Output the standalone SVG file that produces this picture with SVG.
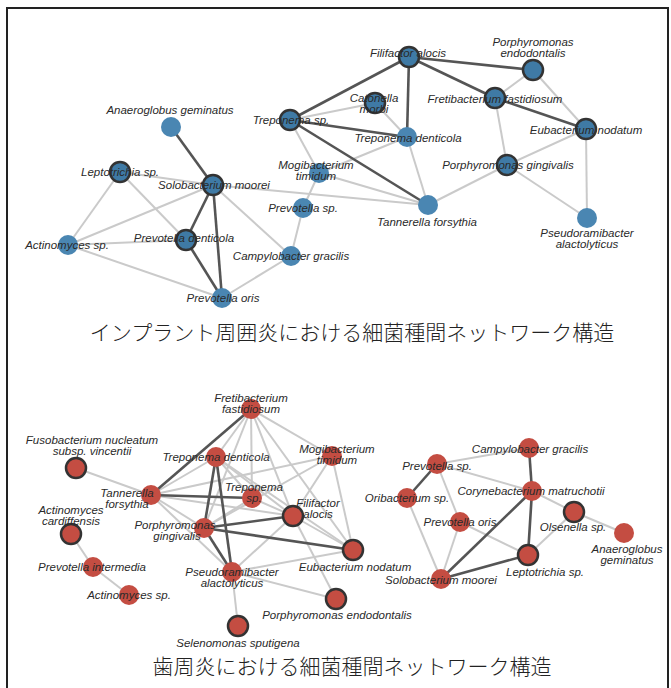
<svg xmlns="http://www.w3.org/2000/svg" width="671" height="688" viewBox="0 0 671 688">
<style>
.e{stroke:#cacaca;stroke-width:2;fill:none}
.d{stroke:#555;stroke-width:2.6;fill:none}
.b{fill:#4a86b2}
.bo{fill:#3f7aa5;stroke:#333;stroke-width:2.5}
.r{fill:#c44d42}
.ro{fill:#c44d42;stroke:#333;stroke-width:2.5}
.t{font-family:"Liberation Sans",Arial,sans-serif;font-size:11.5px;font-style:italic;fill:#2a2a2a;text-anchor:middle}
.h{font-family:"Liberation Serif","Noto Sans CJK JP",serif;font-size:21px;font-weight:300;fill:#222;text-anchor:middle}
</style>
<rect x="0" y="0" width="671" height="688" fill="#fff"/>
<rect x="7" y="8" width="661" height="690" fill="none" stroke="#222" stroke-width="2"/>
<g id="connectors">
<line class="e" x1="290" y1="120" x2="375" y2="103"/>
<line class="e" x1="290" y1="120" x2="319" y2="173"/>
<line class="e" x1="375" y1="103" x2="407" y2="137"/>
<line class="e" x1="407" y1="137" x2="319" y2="173"/>
<line class="e" x1="407" y1="137" x2="428" y2="205"/>
<line class="e" x1="319" y1="173" x2="428" y2="205"/>
<line class="e" x1="319" y1="173" x2="303" y2="208"/>
<line class="e" x1="303" y1="208" x2="291" y2="256"/>
<line class="e" x1="533" y1="70" x2="495" y2="98"/>
<line class="e" x1="533" y1="70" x2="586" y2="129"/>
<line class="e" x1="495" y1="98" x2="507" y2="165"/>
<line class="e" x1="586" y1="129" x2="507" y2="165"/>
<line class="e" x1="586" y1="129" x2="587" y2="218"/>
<line class="e" x1="507" y1="165" x2="428" y2="205"/>
<line class="e" x1="507" y1="165" x2="587" y2="218"/>
<line class="e" x1="213" y1="185" x2="120" y2="172"/>
<line class="e" x1="213" y1="185" x2="68" y2="245"/>
<line class="e" x1="213" y1="185" x2="291" y2="256"/>
<line class="e" x1="213" y1="185" x2="428" y2="205"/>
<line class="e" x1="120" y1="172" x2="68" y2="245"/>
<line class="e" x1="120" y1="172" x2="186" y2="240"/>
<line class="e" x1="68" y1="245" x2="186" y2="240"/>
<line class="e" x1="68" y1="245" x2="222" y2="298"/>
<line class="e" x1="291" y1="256" x2="222" y2="298"/>
<line class="d" x1="290" y1="120" x2="409" y2="57"/>
<line class="d" x1="290" y1="120" x2="407" y2="137" stroke-width="3"/>
<line class="d" x1="290" y1="120" x2="428" y2="205"/>
<line class="d" x1="409" y1="57" x2="407" y2="137"/>
<line class="d" x1="409" y1="57" x2="533" y2="70"/>
<line class="d" x1="409" y1="57" x2="495" y2="98"/>
<line class="d" x1="495" y1="98" x2="586" y2="129"/>
<line class="d" x1="213" y1="185" x2="171" y2="127"/>
<line class="d" x1="213" y1="185" x2="186" y2="240" stroke-width="6"/>
<line class="d" x1="213" y1="185" x2="222" y2="298"/>
<line class="d" x1="186" y1="240" x2="222" y2="298"/>
<line class="e" x1="76" y1="468" x2="151" y2="495"/>
<line class="e" x1="71" y1="534" x2="93" y2="567"/>
<line class="e" x1="93" y1="567" x2="129" y2="595"/>
<line class="e" x1="251" y1="409" x2="216" y2="457"/>
<line class="e" x1="251" y1="409" x2="252" y2="498"/>
<line class="e" x1="251" y1="409" x2="204" y2="528"/>
<line class="e" x1="251" y1="409" x2="332" y2="456"/>
<line class="e" x1="251" y1="409" x2="293" y2="516"/>
<line class="e" x1="251" y1="409" x2="353" y2="550"/>
<line class="e" x1="151" y1="495" x2="216" y2="457"/>
<line class="e" x1="151" y1="495" x2="332" y2="456"/>
<line class="e" x1="151" y1="495" x2="293" y2="516"/>
<line class="e" x1="151" y1="495" x2="204" y2="528"/>
<line class="e" x1="151" y1="495" x2="232" y2="572"/>
<line class="e" x1="216" y1="457" x2="252" y2="498"/>
<line class="e" x1="216" y1="457" x2="293" y2="516"/>
<line class="e" x1="216" y1="457" x2="353" y2="550"/>
<line class="e" x1="204" y1="528" x2="252" y2="498"/>
<line class="e" x1="204" y1="528" x2="332" y2="456"/>
<line class="e" x1="252" y1="498" x2="293" y2="516"/>
<line class="e" x1="332" y1="456" x2="293" y2="516"/>
<line class="e" x1="332" y1="456" x2="353" y2="550"/>
<line class="e" x1="293" y1="516" x2="232" y2="572"/>
<line class="e" x1="293" y1="516" x2="336" y2="599"/>
<line class="e" x1="293" y1="516" x2="353" y2="550"/>
<line class="e" x1="232" y1="572" x2="353" y2="550"/>
<line class="e" x1="232" y1="572" x2="336" y2="599"/>
<line class="e" x1="232" y1="572" x2="238" y2="626"/>
<line class="d" x1="251" y1="409" x2="151" y2="495"/>
<line class="d" x1="151" y1="495" x2="252" y2="498"/>
<line class="d" x1="216" y1="457" x2="204" y2="528"/>
<line class="d" x1="216" y1="457" x2="232" y2="572"/>
<line class="d" x1="204" y1="528" x2="293" y2="516"/>
<line class="d" x1="204" y1="528" x2="353" y2="550"/>
<line class="d" x1="204" y1="528" x2="232" y2="572"/>
<line class="e" x1="529" y1="448" x2="437" y2="464"/>
<line class="e" x1="437" y1="464" x2="532" y2="491"/>
<line class="e" x1="437" y1="464" x2="460" y2="522"/>
<line class="e" x1="532" y1="491" x2="574" y2="512"/>
<line class="e" x1="574" y1="512" x2="624" y2="533"/>
<line class="e" x1="574" y1="512" x2="528" y2="555"/>
<line class="e" x1="407" y1="498" x2="441" y2="579"/>
<line class="e" x1="460" y1="522" x2="441" y2="579"/>
<line class="e" x1="460" y1="522" x2="528" y2="555"/>
<line class="d" x1="529" y1="448" x2="532" y2="491"/>
<line class="d" x1="437" y1="464" x2="407" y2="498"/>
<line class="d" x1="532" y1="491" x2="441" y2="579"/>
<line class="d" x1="532" y1="491" x2="528" y2="555"/>
<line class="d" x1="441" y1="579" x2="528" y2="555"/>
</g>
<g id="n-t-anaeroglobus"><circle class="b" cx="171" cy="127" r="10"/><text class="t" x="170" y="114">Anaeroglobus geminatus</text></g>
<g id="n-t-treponema-sp"><circle class="bo" cx="290" cy="120" r="10"/><text class="t" x="291" y="124">Treponema sp.</text></g>
<g id="n-t-leptotrichia"><circle class="bo" cx="120" cy="172" r="10"/><text class="t" x="120" y="176">Leptotrichia sp.</text></g>
<g id="n-t-filifactor"><circle class="bo" cx="409" cy="57" r="10"/><text class="t" x="408" y="57">Filifactor alocis</text></g>
<g id="n-t-p-endodontalis"><circle class="bo" cx="533" cy="70" r="10"/><text class="t" x="533" y="46">Porphyromonas<tspan x="533" dy="11">endodontalis</tspan></text></g>
<g id="n-t-catonella"><circle class="bo" cx="375" cy="103" r="10"/><text class="t" x="374" y="102">Catonella<tspan x="374" dy="11">morbi</tspan></text></g>
<g id="n-t-fretibacterium"><circle class="bo" cx="495" cy="98" r="10"/><text class="t" x="495" y="103">Fretibacterium fastidiosum</text></g>
<g id="n-t-eubacterium"><circle class="bo" cx="586" cy="129" r="10"/><text class="t" x="586" y="134">Eubacterium nodatum</text></g>
<g id="n-t-t-denticola"><circle class="b" cx="407" cy="137" r="10"/><text class="t" x="408" y="142">Treponema denticola</text></g>
<g id="n-t-p-gingivalis"><circle class="bo" cx="507" cy="165" r="10"/><text class="t" x="508" y="169">Porphyromonas gingivalis</text></g>
<g id="n-t-solobacterium"><circle class="bo" cx="213" cy="185" r="10"/><text class="t" x="214" y="189">Solobacterium moorei</text></g>
<g id="n-t-p-denticola"><circle class="bo" cx="186" cy="240" r="10"/><text class="t" x="184" y="242">Prevotella denticola</text></g>
<g id="n-t-actinomyces"><circle class="b" cx="68" cy="245" r="10"/><text class="t" x="67" y="249">Actinomyces sp.</text></g>
<g id="n-t-p-oris"><circle class="b" cx="222" cy="298" r="10"/><text class="t" x="223" y="302">Prevotella oris</text></g>
<g id="n-t-campylobacter"><circle class="b" cx="291" cy="256" r="10"/><text class="t" x="291" y="260">Campylobacter gracilis</text></g>
<g id="n-t-prevotella-sp"><circle class="b" cx="303" cy="208" r="10"/><text class="t" x="303" y="212">Prevotella sp.</text></g>
<g id="n-t-mogibacterium"><circle class="b" cx="319" cy="173" r="10"/><text class="t" x="316" y="169">Mogibacterium<tspan x="316" dy="11">timidum</tspan></text></g>
<g id="n-t-tannerella"><circle class="b" cx="428" cy="205" r="10"/><text class="t" x="427" y="226">Tannerella forsythia</text></g>
<g id="n-t-pseudoramibacter"><circle class="b" cx="587" cy="218" r="10"/><text class="t" x="587" y="237">Pseudoramibacter<tspan x="587" dy="11">alactolyticus</tspan></text></g>
<g id="title-1"><text class="h" x="352" y="340">インプラント周囲炎における細菌種間ネットワーク構造</text></g>
<g id="n-b-fretibacterium"><circle class="r" cx="251" cy="409" r="10"/><text class="t" x="251" y="402">Fretibacterium<tspan x="251" dy="11">fastidiosum</tspan></text></g>
<g id="n-b-fusobacterium"><circle class="ro" cx="76" cy="468" r="10"/><text class="t" x="92" y="444">Fusobacterium nucleatum<tspan x="92" dy="11">subsp. vincentii</tspan></text></g>
<g id="n-b-t-denticola"><circle class="r" cx="216" cy="457" r="10"/><text class="t" x="216" y="461">Treponema denticola</text></g>
<g id="n-b-mogibacterium"><circle class="r" cx="332" cy="456" r="10"/><text class="t" x="337" y="453">Mogibacterium<tspan x="337" dy="11">timidum</tspan></text></g>
<g id="n-b-tannerella"><circle class="r" cx="151" cy="495" r="10"/><text class="t" x="127" y="497">Tannerella<tspan x="127" dy="11">forsythia</tspan></text></g>
<g id="n-b-treponema-sp"><circle class="r" cx="252" cy="498" r="10"/><text class="t" x="254" y="491">Treponema<tspan x="254" dy="11">sp.</tspan></text></g>
<g id="n-b-filifactor"><circle class="ro" cx="293" cy="516" r="10"/><text class="t" x="318" y="507">Filifactor<tspan x="318" dy="11">alocis</tspan></text></g>
<g id="n-b-a-cardiffensis"><circle class="ro" cx="71" cy="534" r="10"/><text class="t" x="71" y="514">Actinomyces<tspan x="71" dy="11">cardiffensis</tspan></text></g>
<g id="n-b-p-gingivalis"><circle class="r" cx="204" cy="528" r="10"/><text class="t" x="175" y="529">Porphyromonas<tspan x="177" dy="11">gingivalis</tspan></text></g>
<g id="n-b-p-intermedia"><circle class="r" cx="93" cy="567" r="10"/><text class="t" x="92" y="571">Prevotella intermedia</text></g>
<g id="n-b-actinomyces"><circle class="r" cx="129" cy="595" r="10"/><text class="t" x="129" y="599">Actinomyces sp.</text></g>
<g id="n-b-pseudoramibacter"><circle class="r" cx="232" cy="572" r="10"/><text class="t" x="232" y="576">Pseudoramibacter<tspan x="232" dy="11">alactolyticus</tspan></text></g>
<g id="n-b-selenomonas"><circle class="ro" cx="238" cy="626" r="10"/><text class="t" x="238" y="647">Selenomonas sputigena</text></g>
<g id="n-b-eubacterium"><circle class="ro" cx="353" cy="550" r="10"/><text class="t" x="355" y="571">Eubacterium nodatum</text></g>
<g id="n-b-p-endodontalis"><circle class="ro" cx="336" cy="599" r="10"/><text class="t" x="337" y="619">Porphyromonas endodontalis</text></g>
<g id="n-b-campylobacter"><circle class="r" cx="529" cy="448" r="10"/><text class="t" x="530" y="453">Campylobacter gracilis</text></g>
<g id="n-b-prevotella-sp"><circle class="r" cx="437" cy="464" r="10"/><text class="t" x="437" y="470">Prevotella sp.</text></g>
<g id="n-b-corynebacterium"><circle class="r" cx="532" cy="491" r="10"/><text class="t" x="531" y="495">Corynebacterium matruchotii</text></g>
<g id="n-b-oribacterium"><circle class="r" cx="407" cy="498" r="10"/><text class="t" x="407" y="502">Oribacterium sp.</text></g>
<g id="n-b-olsenella"><circle class="ro" cx="574" cy="512" r="10"/><text class="t" x="573" y="531">Olsenella sp.</text></g>
<g id="n-b-p-oris"><circle class="r" cx="460" cy="522" r="10"/><text class="t" x="460" y="526">Prevotella oris</text></g>
<g id="n-b-anaeroglobus"><circle class="r" cx="624" cy="533" r="10"/><text class="t" x="627" y="553">Anaeroglobus<tspan x="627" dy="11">geminatus</tspan></text></g>
<g id="n-b-leptotrichia"><circle class="ro" cx="528" cy="555" r="10"/><text class="t" x="545" y="576">Leptotrichia sp.</text></g>
<g id="n-b-solobacterium"><circle class="r" cx="441" cy="579" r="10"/><text class="t" x="441" y="584">Solobacterium moorei</text></g>
<g id="title-2"><text class="h" x="352" y="674">歯周炎における細菌種間ネットワーク構造</text></g>
</svg>
